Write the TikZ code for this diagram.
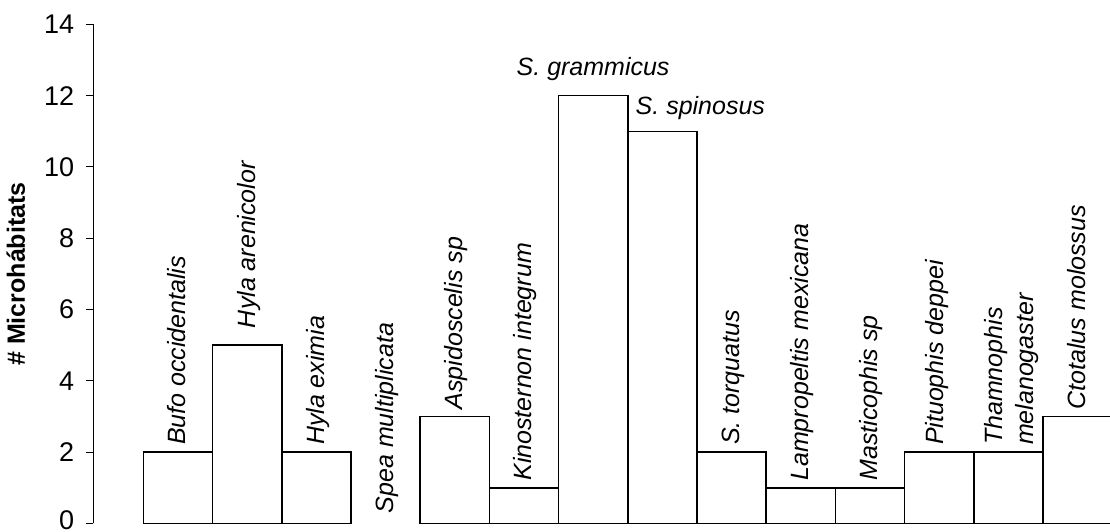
\documentclass[tikz,border=0pt]{standalone}
\usepackage{fontspec}
\setmainfont{Liberation Sans}
\usepackage{tikz}

\begin{document}
\begin{tikzpicture}[x=1pt, y=1pt,
                    axis/.style={line width=1pt, black},
                    bar/.style={line width=1.6pt, black},
                    ticklab/.style={anchor=east, inner sep=0pt, xshift=-11pt, font=\fontsize{27}{30}\selectfont},
                    spname/.style={inner sep=0pt, font=\fontsize{25}{31}\selectfont\itshape},
                    uplab/.style={spname, rotate=90, anchor=base west},
                   ]

\fill[white] (0,0) rectangle (1110,532);
\useasboundingbox (0,0) rectangle (1110,532);

% y axis
\coordinate (0) at (93,8.5);
\draw[axis] (93,8.5) -- (93,507.6);

\draw[axis] (93,8.5) -- (85.7,8.5) node[ticklab, yshift=3pt] (t0) {0};
\draw[axis] (93,79.8) -- (85.7,79.8) node[ticklab] (t2) {2};
\draw[axis] (93,151.1) -- (85.7,151.1) node[ticklab] (t4) {4};
\draw[axis] (93,222.4) -- (85.7,222.4) node[ticklab] (t6) {6};
\draw[axis] (93,293.7) -- (85.7,293.7) node[ticklab] (t8) {8};
\draw[axis] (93,365) -- (85.7,365) node[ticklab] (t10) {10};
\draw[axis] (93,436.3) -- (85.7,436.3) node[ticklab] (t12) {12};
\draw[axis] (93,507.6) -- (85.7,507.6) node[ticklab] (t14) {14};

\node[rotate=90, anchor=base, inner sep=0pt, font=\fontsize{25}{30}\selectfont\bfseries] (ytitle) at (25,258) {\# Microhábitats};

% bars
\draw[bar] (143.3,8.5) rectangle (212.5,79.8);
\draw[bar] (212.5,8.5) rectangle (281.7,186.75);
\draw[bar] (281.7,8.5) rectangle (350.9,79.8);
\draw[bar] (420.1,8.5) rectangle (489.3,115.45);
\draw[bar] (489.3,8.5) rectangle (558.5,44.15);
\draw[bar] (558.5,8.5) rectangle (627.7,436.3);
\draw[bar] (627.7,8.5) rectangle (696.9,400.65);
\draw[bar] (696.9,8.5) rectangle (766.1,79.8);
\draw[bar] (766.1,8.5) rectangle (835.3,44.15);
\draw[bar] (835.3,8.5) rectangle (904.5,44.15);
\draw[bar] (904.5,8.5) rectangle (973.7,79.8);
\draw[bar] (973.7,8.5) rectangle (1042.9,79.8);
\draw[bar] (1042.9,8.5) rectangle (1112.1,115.45);

% species names
\node[uplab] (bufo) at (185.9,86.8) {Bufo occidentalis};
\node[uplab] (hylaar) at (255.1,203.75) {Hyla arenicolor};
\node[uplab] (hylaex) at (324.3,86.8) {Hyla eximia};
\node[uplab] (spea) at (393.5,18.5) {Spea multiplicata};
\node[uplab] (aspid) at (462.7,122.45) {Aspidoscelis sp};
\node[uplab] (kino) at (531.9,51.15) {Kinosternon integrum};
\node[spname, anchor=base] (gramm) at (593.1,456) {S. grammicus};
\node[spname, anchor=base west] (spino) at (635.5,417) {S. spinosus};
\node[uplab] (torq) at (739.5,86.8) {S. torquatus};
\node[uplab] (lampro) at (808.7,51.15) {Lampropeltis mexicana};
\node[uplab] (mastic) at (877.9,51.15) {Masticophis sp};
\node[uplab] (pituo) at (943,86.8) {Pituophis deppei};
\node[uplab, align=left] (thamno) at (1033,86.8) {Thamnophis\\melanogaster};
\node[uplab] (ctotal) at (1085.5,122.45) {Ctotalus molossus};

\end{tikzpicture}
\end{document}
